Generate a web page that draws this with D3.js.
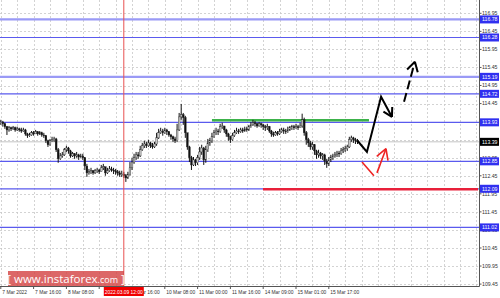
<!DOCTYPE html>
<html>
<head>
<meta charset="utf-8">
<script src="https://cdn.jsdelivr.net/npm/d3@7/dist/d3.min.js"></script>
<style>
  body { margin: 0; background: #fff; }
  svg { display: block; font-family: "Liberation Sans", Arial, sans-serif; }
</style>
</head>
<body>
<script>
// Stundenkerzen: Schlusskurse, Hochs und Tiefs
const firstOpen = 113.92;
const closes = [
  113.94, 113.89, 113.81, 113.72, 113.78, 113.75, 113.78, 113.72, 113.75, 113.72,
  113.69, 113.72, 113.61, 113.56, 113.58, 113.64, 113.61, 113.67, 113.61, 113.64,
  113.58, 113.56, 113.42, 113.31, 113.42, 113.45, 113.47, 113.17, 112.92, 113.00,
  113.03, 113.17, 113.22, 113.14, 113.00, 113.06, 113.00, 113.03, 112.97, 113.00,
  112.95, 112.72, 112.53, 112.56, 112.59, 112.53, 112.59, 112.61, 112.56, 112.67,
  112.70, 112.53, 112.59, 112.64, 112.61, 112.59, 112.56, 112.53, 112.48, 112.50,
  112.45, 112.39, 112.48, 112.67, 112.83, 112.95, 113.03, 113.00, 113.17, 113.28,
  113.33, 113.28, 113.36, 113.28, 113.25, 113.33, 113.50, 113.64, 113.69, 113.64,
  113.72, 113.67, 113.58, 113.53, 113.47, 113.42, 113.72, 114.08, 114.14, 114.06,
  113.64, 113.25, 112.95, 112.75, 112.89, 112.81, 112.95, 113.11, 113.22, 112.89,
  113.17, 113.36, 113.42, 113.53, 113.64, 113.69, 113.67, 113.81, 113.83, 113.72,
  113.61, 113.53, 113.45, 113.56, 113.64, 113.69, 113.67, 113.72, 113.69, 113.75,
  113.72, 113.81, 113.86, 113.92, 113.89, 113.83, 113.89, 113.86, 113.81, 113.78,
  113.81, 113.69, 113.61, 113.58, 113.64, 113.61, 113.67, 113.72, 113.69, 113.67,
  113.72, 113.78, 113.81, 113.78, 113.81, 113.78, 113.83, 114.00, 113.64, 113.45,
  113.36, 113.25, 113.31, 113.14, 113.03, 113.08, 113.00, 113.03, 112.86, 112.78,
  112.89, 112.95, 113.00, 113.03, 113.08, 113.06, 113.14, 113.17, 113.20, 113.25,
  113.45, 113.50, 113.45, 113.42, 113.39
];
const highs = [
  114.00, 113.97, 113.92, 113.83, 113.83, 113.81, 113.83, 113.81, 113.81, 113.78,
  113.78, 113.78, 113.75, 113.64, 113.64, 113.69, 113.69, 113.72, 113.69, 113.69,
  113.67, 113.64, 113.58, 113.45, 113.47, 113.53, 113.53, 113.50, 113.22, 113.08,
  113.11, 113.22, 113.28, 113.25, 113.17, 113.11, 113.08, 113.11, 113.06, 113.06,
  113.06, 112.97, 112.78, 112.64, 112.67, 112.61, 112.64, 112.67, 112.64, 112.75,
  112.78, 112.70, 112.67, 112.72, 112.70, 112.67, 112.64, 112.61, 112.59, 112.59,
  112.56, 112.50, 112.56, 112.83, 112.95, 113.06, 113.11, 113.11, 113.28, 113.36,
  113.42, 113.39, 113.45, 113.39, 113.36, 113.39, 113.64, 113.75, 113.78, 113.75,
  113.78, 113.75, 113.69, 113.61, 113.56, 113.53, 113.89, 114.19, 114.44, 114.19,
  114.11, 113.64, 113.28, 113.00, 112.97, 112.92, 113.03, 113.25, 113.31, 113.25,
  113.28, 113.47, 113.50, 113.64, 113.72, 113.78, 113.75, 113.89, 113.92, 113.83,
  113.75, 113.64, 113.56, 113.64, 113.72, 113.78, 113.75, 113.78, 113.78, 113.81,
  113.81, 113.86, 113.94, 114.00, 113.97, 113.92, 113.94, 113.92, 113.89, 113.86,
  113.89, 113.83, 113.72, 113.67, 113.69, 113.69, 113.75, 113.78, 113.78, 113.75,
  113.81, 113.83, 113.86, 113.86, 113.89, 113.86, 113.92, 114.17, 114.06, 113.69,
  113.50, 113.42, 113.39, 113.33, 113.17, 113.17, 113.11, 113.08, 113.06, 112.92,
  112.97, 113.03, 113.06, 113.11, 113.14, 113.14, 113.22, 113.25, 113.28, 113.31,
  113.53, 113.56, 113.53, 113.50, 113.47
];
const lows = [
  113.86, 113.81, 113.75, 113.58, 113.67, 113.69, 113.72, 113.67, 113.69, 113.67,
  113.64, 113.67, 113.56, 113.50, 113.53, 113.56, 113.56, 113.61, 113.56, 113.58,
  113.53, 113.50, 113.36, 113.25, 113.28, 113.39, 113.39, 113.11, 112.81, 112.89,
  112.95, 113.00, 113.11, 113.06, 112.95, 112.97, 112.92, 112.95, 112.89, 112.95,
  112.89, 112.61, 112.42, 112.48, 112.50, 112.48, 112.50, 112.53, 112.50, 112.56,
  112.61, 112.45, 112.50, 112.56, 112.56, 112.50, 112.48, 112.45, 112.42, 112.42,
  112.39, 112.28, 112.36, 112.45, 112.61, 112.78, 112.89, 112.92, 112.97, 113.14,
  113.22, 113.22, 113.25, 113.22, 113.20, 113.22, 113.28, 113.47, 113.61, 113.56,
  113.61, 113.58, 113.53, 113.45, 113.39, 113.36, 113.39, 113.69, 114.00, 113.86,
  113.50, 113.17, 112.83, 112.61, 112.72, 112.72, 112.75, 112.89, 113.03, 112.75,
  112.81, 113.11, 113.28, 113.36, 113.50, 113.58, 113.58, 113.64, 113.75, 113.64,
  113.53, 113.42, 113.36, 113.42, 113.53, 113.61, 113.61, 113.64, 113.64, 113.67,
  113.67, 113.69, 113.78, 113.83, 113.81, 113.78, 113.81, 113.78, 113.72, 113.69,
  113.72, 113.64, 113.53, 113.53, 113.56, 113.56, 113.58, 113.64, 113.61, 113.61,
  113.64, 113.69, 113.72, 113.72, 113.75, 113.72, 113.78, 113.78, 113.56, 113.31,
  113.25, 113.17, 113.17, 113.03, 112.92, 112.95, 112.92, 112.89, 112.75, 112.67,
  112.72, 112.83, 112.89, 112.95, 112.97, 112.97, 113.03, 113.08, 113.11, 113.14,
  113.22, 113.39, 113.36, 113.33, 113.33
];

// Preisachse und Zeitachse
const priceTicks = [116.95, 116.45, 115.95, 115.45, 114.95, 114.45, 113.95, 113.45,
  112.95, 112.45, 111.95, 111.45, 110.95, 110.45, 109.95, 109.45];
const timeTicks = [0, 16, 32, 48, 64, 80, 96, 112, 128, 144, 160];
const timeLabels = ["7 Mar 2022", "7 Mar 16:00", "8 Mar 08:00", "9 Mar 00:00", "9 Mar 16:00",
  "10 Mar 08:00", "11 Mar 00:00", "11 Mar 16:00", "14 Mar 09:00", "15 Mar 01:00", "15 Mar 17:00"];

// Horizontale Niveaus
const levels = [116.78, 116.28, 115.19, 114.72, 113.93, 112.85, 112.09, 111.02];
const majorLevels = [116.78, 115.19];
const currentPrice = 113.39;
const resistance = { from: 103, to: 179.6, price: 113.99 };
const support = { from: 127.9, to: 233, price: 112.08 };

// Fadenkreuz
const crossIndex = 60;
const crossLabel = "2022.03.09 12:00";

// Prognose-Pfeile [Kerzenindex, Preis]
const forecastMain = [[174, 113.42], [178.6, 113.11], [185.5, 114.64], [190.8, 114.08]];
const forecastDashed = [[196.7, 114.50], [202.0, 115.61]];
const forecastAltDown = [[176.2, 112.83], [182.0, 112.45]];
const forecastAltUp = [[183.5, 112.53], [187.9, 113.20]];

const width = 500;
const height = 298;
const plotRight = 479;
const plotBottom = 286;

let x = d3.scaleLinear().domain([0, 233]).range([0.8, 0.8 + 233 * 2.05]);
let y = d3.scaleLinear().domain([109.45, 116.95]).range([284.1, 13.3]);
let fmt = d3.format(".2f");

let svg = d3.select("body").append("svg")
  .attr("width", width)
  .attr("height", height);

// Raster
let grid = svg.append("g")
  .attr("stroke", "#c8c8c8")
  .attr("stroke-width", 0.8)
  .attr("stroke-dasharray", "2,2");

grid.selectAll("line.h")
  .data(priceTicks)
  .enter()
  .append("line")
  .attr("x1", 0).attr("x2", plotRight)
  .attr("y1", (d) => Math.round(y(d)) + 0.5)
  .attr("y2", (d) => Math.round(y(d)) + 0.5);

grid.selectAll("line.v")
  .data(d3.range(0, 233, 8))
  .enter()
  .append("line")
  .attr("y1", 0).attr("y2", plotBottom)
  .attr("x1", (d) => Math.round(x(d)) + 0.5)
  .attr("x2", (d) => Math.round(x(d)) + 0.5);

// aktuelle Kurslinie
svg.append("line")
  .attr("x1", 0).attr("x2", plotRight)
  .attr("y1", y(currentPrice)).attr("y2", y(currentPrice))
  .attr("stroke", "#c4c4c4")
  .attr("stroke-width", 1);

// Niveaus
svg.selectAll("line.level")
  .data(levels)
  .enter()
  .append("line")
  .attr("x1", 0).attr("x2", plotRight)
  .attr("y1", (d) => y(d)).attr("y2", (d) => y(d))
  .attr("stroke", (d) => (majorLevels.includes(d) ? "#9a9af6" : "#5a5aee"))
  .attr("stroke-width", (d) => (majorLevels.includes(d) ? 2.2 : 1.2));

svg.append("line")
  .attr("x1", x(resistance.from)).attr("x2", x(resistance.to))
  .attr("y1", y(resistance.price)).attr("y2", y(resistance.price))
  .attr("stroke", "#3cb24a")
  .attr("stroke-width", 2.5);

svg.append("line")
  .attr("x1", x(support.from)).attr("x2", Math.min(x(support.to), plotRight - 1))
  .attr("y1", y(support.price)).attr("y2", y(support.price))
  .attr("stroke", "#e8203a")
  .attr("stroke-width", 2.5);

// Kerzen
let candles = closes.map((c, i) => ({
  i: i,
  o: i === 0 ? firstOpen : closes[i - 1],
  c: c,
  h: highs[i],
  l: lows[i],
}));

let candleG = svg.selectAll("g.candle")
  .data(candles)
  .enter()
  .append("g")
  .attr("class", "candle");

candleG.append("line")
  .attr("x1", (d) => x(d.i)).attr("x2", (d) => x(d.i))
  .attr("y1", (d) => y(Math.max(d.h, d.o, d.c)))
  .attr("y2", (d) => y(Math.min(d.l, d.o, d.c)))
  .attr("stroke", "#111")
  .attr("stroke-width", 1);

candleG.append("rect")
  .attr("x", (d) => x(d.i) - 0.9)
  .attr("width", 1.8)
  .attr("y", (d) => y(Math.max(d.o, d.c)))
  .attr("height", (d) => Math.max(0.8, Math.abs(y(d.o) - y(d.c))))
  .attr("fill", (d) => (d.c >= d.o ? "#c8c8c8" : "#111"))
  .attr("stroke", "#222")
  .attr("stroke-width", 0.35);

// Fadenkreuz (senkrecht)
svg.append("line")
  .attr("x1", x(crossIndex)).attr("x2", x(crossIndex))
  .attr("y1", 0).attr("y2", plotBottom)
  .attr("stroke", "#e85050")
  .attr("stroke-width", 1);

// Prognosepfeile
let line = d3.line().x((d) => x(d[0])).y((d) => y(d[1]));

function drawArrow(points, color, w, dash, len) {
  svg.append("path")
    .attr("d", line(points))
    .attr("fill", "none")
    .attr("stroke", color)
    .attr("stroke-width", w)
    .attr("stroke-linejoin", "miter")
    .attr("stroke-dasharray", dash);
  let tip = points[points.length - 1];
  let from = points[points.length - 2];
  let tx = x(tip[0]), ty = y(tip[1]);
  let a = Math.atan2(ty - y(from[1]), tx - x(from[0]));
  [-1, 1].forEach((s) => {
    let b = a + Math.PI + (s * Math.PI) / 6;
    svg.append("line")
      .attr("x1", tx).attr("y1", ty)
      .attr("x2", tx + len * Math.cos(b))
      .attr("y2", ty + len * Math.sin(b))
      .attr("stroke", color)
      .attr("stroke-width", w);
  });
}

drawArrow(forecastMain, "#000", 2, null, 10);
drawArrow(forecastDashed, "#000", 2, "9,4", 11);
svg.append("path")
  .attr("d", line(forecastAltDown))
  .attr("fill", "none")
  .attr("stroke", "#ee2222")
  .attr("stroke-width", 1.6);
drawArrow(forecastAltUp, "#ee2222", 1.6, null, 12);

// Achsenlinien
svg.append("line")
  .attr("x1", 0).attr("x2", plotRight + 0.5)
  .attr("y1", plotBottom + 0.5).attr("y2", plotBottom + 0.5)
  .attr("stroke", "#555");
svg.append("line")
  .attr("x1", plotRight + 0.5).attr("x2", plotRight + 0.5)
  .attr("y1", 0).attr("y2", plotBottom + 0.5)
  .attr("stroke", "#555");

// Preisbeschriftung (Werte, die ganz unter einer Box liegen, weglassen)
let boxed = levels.concat([currentPrice]);
let visibleTicks = priceTicks.filter(
  (t) => !boxed.some((p) => Math.abs(y(p) - y(t)) < 2.5)
);

let priceAxis = svg.append("g").attr("font-size", 5.2).attr("fill", "#333");

priceAxis.selectAll("line")
  .data(priceTicks)
  .enter()
  .append("line")
  .attr("x1", plotRight).attr("x2", plotRight + 2.5)
  .attr("y1", (d) => y(d)).attr("y2", (d) => y(d))
  .attr("stroke", "#555");

priceAxis.selectAll("text")
  .data(visibleTicks)
  .enter()
  .append("text")
  .attr("x", plotRight + 3)
  .attr("y", (d) => y(d))
  .attr("dy", "0.35em")
  .text((d) => fmt(d));

function priceBox(p, fill) {
  let g = svg.append("g").attr("transform", `translate(${plotRight + 1},${y(p)})`);
  g.append("rect")
    .attr("x", 0).attr("y", -4)
    .attr("width", 19).attr("height", 8)
    .attr("fill", fill);
  g.append("text")
    .attr("x", 2).attr("dy", "0.35em")
    .attr("font-size", 5.2)
    .attr("fill", "#fff")
    .text(fmt(p));
}

levels.forEach((p) => priceBox(p, "#3030f0"));
priceBox(currentPrice, "#000");

// Zeitbeschriftung (die ganz vom Fadenkreuz-Label verdeckte weglassen)
let timeAxis = svg.append("g").attr("font-size", 4.9).attr("fill", "#333");

timeAxis.selectAll("line")
  .data(timeTicks)
  .enter()
  .append("line")
  .attr("x1", (d) => x(d)).attr("x2", (d) => x(d))
  .attr("y1", plotBottom).attr("y2", plotBottom + 3)
  .attr("stroke", "#555");

timeAxis.selectAll("text")
  .data(timeTicks.filter((t) => Math.abs(x(t) + 13 - x(crossIndex)) > 20))
  .enter()
  .append("text")
  .attr("x", (d) => x(d) + 1.5)
  .attr("y", plotBottom + 7.5)
  .text((d) => timeLabels[timeTicks.indexOf(d)]);

let crossBox = svg.append("g").attr("transform", `translate(${x(crossIndex)},${plotBottom + 1})`);
crossBox.append("rect")
  .attr("x", -20).attr("y", 0)
  .attr("width", 40).attr("height", 9)
  .attr("fill", "#f00000");
crossBox.append("text")
  .attr("y", 6.5)
  .attr("text-anchor", "middle")
  .attr("font-size", 4.9)
  .attr("fill", "#fff")
  .text(crossLabel);

// Wasserzeichen
let logo = svg.append("g").attr("transform", "translate(8,271)");
logo.append("rect")
  .attr("width", 116).attr("height", 15)
  .attr("fill", "#d44545")
  .attr("opacity", 0.82);
let logoText = logo.append("text")
  .attr("x", 58).attr("y", 11.5)
  .attr("text-anchor", "middle")
  .attr("fill", "#fff")
  .attr("font-family", "'Open Sans', 'Liberation Sans', sans-serif")
  .attr("font-size", 11.5);
logoText.append("tspan").text("[  www.instaforex");
logoText.append("tspan").attr("font-size", 9).text(".com");
logoText.append("tspan").text(" ]");
</script>
</body>
</html>
